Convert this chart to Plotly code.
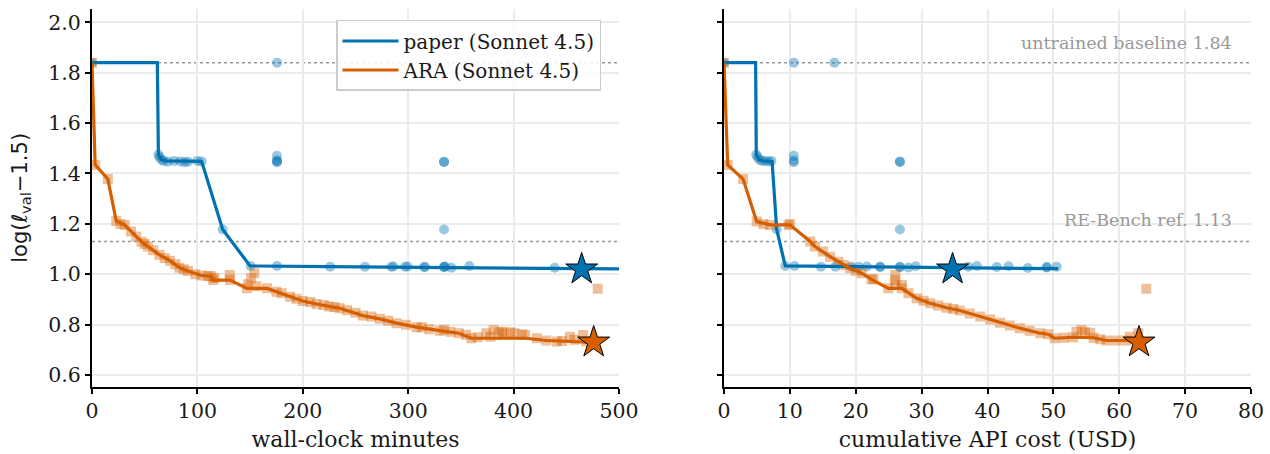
import plotly.graph_objects as go

# ---------------- data ----------------
BASELINE = 1.84
REBENCH = 1.13

# paper (Sonnet 4.5) - best-so-far line, wall-clock minutes
paper_line_min_x = [0, 62, 63, 66, 70, 80, 90, 104, 124, 150, 226, 316, 341, 439, 500]
paper_line_min_y = [1.84, 1.84, 1.475, 1.455, 1.450, 1.450, 1.448, 1.448, 1.178, 1.033, 1.030, 1.028, 1.026, 1.023, 1.021]
# paper - all attempts, wall-clock minutes
paper_pts_min_x = [0, 63, 64, 66, 68, 72, 78, 84, 88, 91, 100, 104,
                   175.5, 175.5, 175.5, 175.5, 175.5, 124, 150.5, 175.5, 226, 259, 284, 286,
                   297, 299.5, 315, 316, 334, 334, 335, 341, 358, 439, 334, 334, 334]
paper_pts_min_y = [1.84, 1.475, 1.465, 1.455, 1.450, 1.447, 1.450, 1.448, 1.445, 1.447, 1.450, 1.448,
                   1.84, 1.47, 1.452, 1.445, 1.448, 1.178, 1.033, 1.033, 1.030, 1.030, 1.030, 1.031,
                   1.030, 1.031, 1.029, 1.029, 1.030, 1.028, 1.031, 1.026, 1.033, 1.026, 1.178, 1.445, 1.447]

# paper - cumulative API cost (USD)
paper_line_usd_x = [0, 4.8, 4.9, 5.3, 6.0, 7.3, 8.0, 9.3, 20, 35, 50.75]
paper_line_usd_y = [1.84, 1.84, 1.475, 1.455, 1.450, 1.448, 1.178, 1.033, 1.030, 1.025, 1.022]
paper_pts_usd_x = [0, 4.9, 5.1, 5.4, 5.8, 6.3, 6.8, 7.2, 10.6, 16.75, 10.6, 10.6, 10.6, 26.7, 26.7,
                   8.0, 26.7, 9.3, 10.7, 14.7, 16.9, 19.3, 20.5, 21.7, 23.7, 23.7, 26.7, 26.7,
                   28.0, 29.1, 37.1, 38.4, 41.4, 43.2, 46.1, 49.0, 49.0, 50.5]
paper_pts_usd_y = [1.84, 1.475, 1.465, 1.455, 1.450, 1.450, 1.448, 1.450, 1.84, 1.84, 1.47, 1.452, 1.445, 1.445, 1.448,
                   1.178, 1.178, 1.033, 1.033, 1.030, 1.030, 1.031, 1.030, 1.031, 1.029, 1.030, 1.030, 1.028,
                   1.027, 1.032, 1.030, 1.033, 1.029, 1.032, 1.025, 1.027, 1.029, 1.030]

# ARA (Sonnet 4.5) - best-so-far line, wall-clock minutes
ara_line_min_x = [0, 3, 15, 23, 31, 40, 47, 53, 64, 74, 83, 91, 104, 113, 115, 131, 147, 166, 175, 188,
                  200, 213, 225, 235, 257, 273, 289, 308, 330, 348, 360, 381, 412, 431, 469, 476]
ara_line_min_y = [1.84, 1.434, 1.378, 1.211, 1.196, 1.16, 1.129, 1.110, 1.077, 1.054, 1.026, 1.013, 0.995,
                  0.992, 0.977, 0.977, 0.944, 0.944, 0.931, 0.911, 0.894, 0.882, 0.872, 0.865, 0.836, 0.823,
                  0.806, 0.790, 0.776, 0.766, 0.746, 0.747, 0.746, 0.737, 0.733, 0.730]
ara_pts_min_x = [0, 3, 15, 23, 27, 31, 37, 42, 47, 50, 53, 58, 64, 69, 74, 79, 83, 87, 91, 98, 104, 110,
                 113, 115, 116, 130.6, 131, 147, 148, 151, 154, 156, 166, 175, 180, 188, 194, 200, 207,
                 213, 220, 225, 230, 235, 242, 250, 257, 265, 273, 281, 289, 298, 308, 313, 320, 330,
                 334, 340, 348, 355, 360, 366, 374, 378, 381, 386, 389, 391, 397, 401, 408, 411, 422,
                 431, 441, 446, 453.5, 458, 466, 469, 479.8]
ara_pts_min_y = [1.84, 1.434, 1.378, 1.211, 1.20, 1.196, 1.17, 1.15, 1.129, 1.12, 1.110, 1.095, 1.077,
                 1.065, 1.054, 1.04, 1.026, 1.02, 1.013, 1.0, 0.995, 0.993, 0.992, 0.977, 0.985, 0.997,
                 0.977, 0.944, 0.96, 0.984, 1.004, 0.952, 0.944, 0.931, 0.925, 0.911, 0.903, 0.894,
                 0.89, 0.882, 0.878, 0.872, 0.87, 0.865, 0.857, 0.847, 0.836, 0.832, 0.823, 0.815,
                 0.806, 0.80, 0.790, 0.79, 0.782, 0.776, 0.78, 0.772, 0.766, 0.76, 0.746, 0.75, 0.766,
                 0.752, 0.779, 0.77, 0.772, 0.765, 0.77, 0.766, 0.762, 0.759, 0.746, 0.737, 0.733,
                 0.735, 0.752, 0.74, 0.759, 0.733, 0.942]

# ARA - cumulative API cost (USD)
ara_line_usd_x = [0, 0.56, 2.9, 4.96, 7.0, 10.0, 13.1, 13.8, 16.1, 17.35, 19.1, 20.9, 22.4, 24.95, 26.98,
                  29.25, 31.3, 33.8, 35.8, 38.9, 41.9, 44.9, 48.0, 49.2, 50.2, 53.0, 56.1, 58.1, 61.1, 63.0]
ara_line_usd_y = [1.84, 1.434, 1.378, 1.209, 1.196, 1.196, 1.130, 1.110, 1.070, 1.050, 1.024, 1.004, 0.980,
                  0.944, 0.944, 0.905, 0.885, 0.867, 0.856, 0.832, 0.808, 0.786, 0.766, 0.762, 0.746,
                  0.750, 0.748, 0.737, 0.737, 0.730]
ara_pts_usd_x = [0, 0.56, 2.9, 4.96, 6.0, 7.0, 9.8, 10.0, 13.1, 13.8, 15.0, 16.1, 17.35, 18.2, 19.1, 20.0,
                 20.9, 22.4, 22.7, 24.95, 26.0, 26.0, 26.0, 27.0, 26.98, 28.0, 29.25, 30.3, 31.3, 32.5,
                 33.8, 34.8, 35.8, 37.3, 38.9, 40.4, 41.9, 43.4, 44.9, 46.4, 48.0, 49.2, 50.2, 51.6, 53.0,
                 53.5, 54.3, 54.8, 55.6, 56.1, 57.1, 58.1, 59.6, 61.1, 61.6, 62.9, 64.1]
ara_pts_usd_y = [1.84, 1.434, 1.378, 1.209, 1.20, 1.196, 1.195, 1.20, 1.130, 1.110, 1.09, 1.070, 1.050,
                 1.037, 1.024, 1.014, 1.004, 0.980, 0.980, 0.944, 0.997, 0.977, 0.957, 0.957, 0.944,
                 0.925, 0.905, 0.895, 0.885, 0.876, 0.867, 0.862, 0.856, 0.844, 0.832, 0.820, 0.808,
                 0.797, 0.786, 0.776, 0.766, 0.762, 0.746, 0.748, 0.750, 0.772, 0.779, 0.770, 0.768,
                 0.748, 0.742, 0.737, 0.737, 0.737, 0.752, 0.766, 0.942]

# best results (stars)
paper_best_min, paper_best_usd, paper_best_y = 464.6, 34.7, 1.020
ara_best_min, ara_best_usd, ara_best_y = 476.0, 63.0, 0.730

# tick labels
x1_ticks = [0, 100, 200, 300, 400, 500]
x2_ticks = [0, 10, 20, 30, 40, 50, 60, 70, 80]
y_ticks = [0.6, 0.8, 1.0, 1.2, 1.4, 1.6, 1.8, 2.0]

# ---------------- style ----------------
BLUE = "#0072B2"
ORANGE = "#D55E00"
SERIF = "DejaVu Serif"
GRID = "#ebebeb"
TXT = "#1a1a1a"

fig = go.Figure()

panels = [
    ("x", "y", paper_pts_min_x, paper_pts_min_y, paper_line_min_x, paper_line_min_y,
     ara_pts_min_x, ara_pts_min_y, ara_line_min_x, ara_line_min_y,
     paper_best_min, ara_best_min, True),
    ("x2", "y2", paper_pts_usd_x, paper_pts_usd_y, paper_line_usd_x, paper_line_usd_y,
     ara_pts_usd_x, ara_pts_usd_y, ara_line_usd_x, ara_line_usd_y,
     paper_best_usd, ara_best_usd, False),
]

for (xa, ya, ppx, ppy, plx, ply, apx, apy, alx, aly, pbx, abx, legend) in panels:
    fig.add_trace(go.Scatter(x=ppx, y=ppy, xaxis=xa, yaxis=ya, mode="markers", showlegend=False,
                             marker=dict(symbol="circle", size=10, color=BLUE, opacity=0.4,
                                         line=dict(width=0)), hoverinfo="skip"))
    fig.add_trace(go.Scatter(x=apx, y=apy, xaxis=xa, yaxis=ya, mode="markers", showlegend=False,
                             marker=dict(symbol="square", size=10, color=ORANGE, opacity=0.4,
                                         line=dict(width=0)), hoverinfo="skip"))
    fig.add_trace(go.Scatter(x=plx, y=ply, xaxis=xa, yaxis=ya, mode="lines", name="paper (Sonnet 4.5)",
                             showlegend=legend, legendgroup="paper",
                             line=dict(color=BLUE, width=3.2)))
    fig.add_trace(go.Scatter(x=alx, y=aly, xaxis=xa, yaxis=ya, mode="lines", name="ARA (Sonnet 4.5)",
                             showlegend=legend, legendgroup="ara",
                             line=dict(color=ORANGE, width=3.2)))
    fig.add_trace(go.Scatter(x=[pbx], y=[paper_best_y], xaxis=xa, yaxis=ya, mode="markers", showlegend=False,
                             marker=dict(symbol="star", size=24, color=BLUE, line=dict(color="black", width=1))))
    fig.add_trace(go.Scatter(x=[abx], y=[ara_best_y], xaxis=xa, yaxis=ya, mode="markers", showlegend=False,
                             marker=dict(symbol="star", size=24, color=ORANGE, line=dict(color="black", width=1))))

# reference lines
for xr in ["x domain", "x2 domain"]:
    yr = "y" if xr.startswith("x ") else "y2"
    for val in [BASELINE, REBENCH]:
        fig.add_shape(type="line", xref=xr, yref=yr, x0=0, x1=1, y0=val, y1=val,
                      line=dict(color="#999999", width=1.5, dash="dot"), layer="below")

fig.add_annotation(text="untrained baseline 1.84", xref="x2 domain", yref="y2", x=0.9677, y=1.918,
                   xanchor="right", yanchor="middle", showarrow=False,
                   font=dict(family=SERIF, size=17.5, color="#999999"))
fig.add_annotation(text="RE-Bench ref. 1.13", xref="x2 domain", yref="y2", x=0.9677, y=1.2156,
                   xanchor="right", yanchor="middle", showarrow=False,
                   font=dict(family=SERIF, size=17.5, color="#999999"))

axis_common = dict(showline=True, linewidth=2, linecolor="black", ticks="outside", ticklen=5,
                   tickwidth=1.5, tickcolor="black", showgrid=True, gridcolor=GRID, gridwidth=1.5,
                   zeroline=False, automargin=False, tickfont=dict(family=SERIF, size=20.5, color=TXT))

yrange = [0.5536, 2.053]
fig.update_layout(
    width=1270, height=454, margin=dict(l=0, r=0, t=0, b=0, autoexpand=False),
    plot_bgcolor="white", paper_bgcolor="white",
    xaxis=dict(domain=[0.07244, 0.48740], range=[0, 500], tickvals=x1_ticks, anchor="y",
               title=dict(text="wall-clock minutes", font=dict(family=SERIF, size=22, color=TXT), standoff=9),
               **axis_common),
    xaxis2=dict(domain=[0.57008, 0.98504], range=[0, 80], tickvals=x2_ticks, anchor="y2",
                title=dict(text="cumulative API cost (USD)", font=dict(family=SERIF, size=22, color=TXT), standoff=9),
                **axis_common),
    yaxis=dict(domain=[0.1482, 0.9802], range=yrange, tickvals=y_ticks, tickformat=".1f", anchor="x",
               title=dict(text="log(<i>ℓ</i><sub>val</sub>−1.5)", font=dict(family="DejaVu Sans", size=21, color=TXT), standoff=15),
               **axis_common),
    yaxis2=dict(domain=[0.1482, 0.9802], range=yrange, tickvals=y_ticks, anchor="x2", showticklabels=False,
                **axis_common),
    legend=dict(x=0.2646, y=0.956, xanchor="left", yanchor="top", bgcolor="rgba(255,255,255,0.85)",
                bordercolor="#cccccc", borderwidth=1.5, font=dict(family=SERIF, size=20, color=TXT),
                itemwidth=56, tracegroupgap=0),
    showlegend=True,
)

fig.write_html("out.html")
